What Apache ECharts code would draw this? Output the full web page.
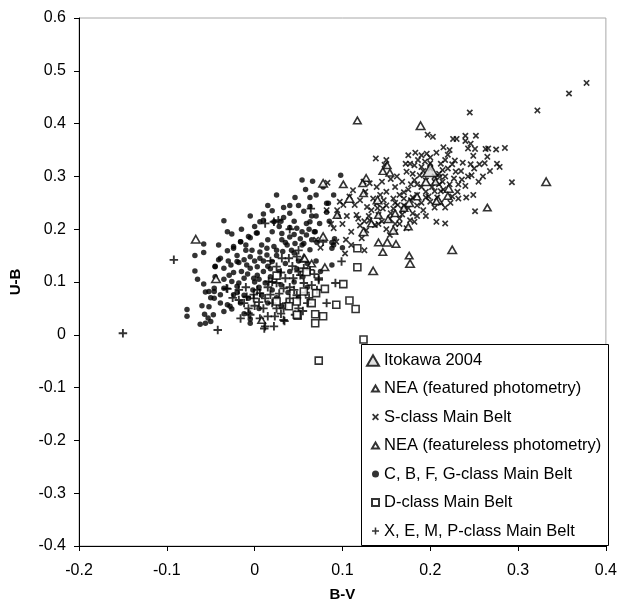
<!DOCTYPE html>
<html>
<head>
<meta charset="utf-8">
<script src="https://cdn.jsdelivr.net/npm/echarts@6/dist/echarts.min.js"></script>
<style>
html,body{margin:0;padding:0;background:#fff;}
#chart{width:620px;height:608px;}
</style>
</head>
<body>
<div id="chart"></div>
<script>
// ---- Data (B-V, U-B) ----
var xTicks = [-0.2, -0.1, 0, 0.1, 0.2, 0.3, 0.4];
var yTicks = [-0.4, -0.3, -0.2, -0.1, 0, 0.1, 0.2, 0.3, 0.4, 0.5, 0.6];
var seriesNames = ["Itokawa 2004", "NEA (featured photometry)", "S-class Main Belt", "NEA (featureless photometry)", "C, B, F, G-class Main Belt", "D-class Main Belt", "X, E, M, P-class Main Belt"];

var itokawa = [[0.200, 0.312]];

var neaFeatured = [[0.117,0.406],[0.146,0.310],[0.154,0.307],[0.151,0.321],[0.101,0.285],[0.127,0.297],[0.123,0.287],[0.124,0.268],[0.265,0.241],[0.176,0.150],[0.146,0.157],[0.141,0.175],[0.161,0.172],[0.133,0.211],[0.175,0.205],[0.094,0.227],[0.207,0.253],[0.220,0.263],[0.206,0.290],[0.080,0.128],[0.057,0.145],[0.141,0.227],[0.152,0.219],[0.008,0.028],[0.065,0.135],[0.170,0.240],[0.185,0.262],[0.160,0.230]];

var neaFeatureless = [[0.189,0.396],[0.078,0.287],[0.108,0.258],[0.332,0.290],[0.225,0.161],[0.177,0.135],[0.135,0.121],[0.151,0.175],[0.124,0.195],[0.158,0.198],[0.209,0.255],[0.221,0.277],[0.078,0.186],[-0.067,0.181],[-0.044,0.106],[0.056,0.145],[0.195,0.290],[0.176,0.250],[0.140,0.255]];

var sClass = [[0.378,0.477],[0.358,0.457],[0.322,0.425],[0.245,0.421],[0.197,0.379],[0.203,0.375],[0.226,0.371],[0.230,0.371],[0.240,0.377],[0.252,0.377],[0.240,0.367],[0.246,0.362],[0.243,0.353],[0.251,0.352],[0.263,0.352],[0.266,0.353],[0.275,0.351],[0.285,0.354],[0.249,0.339],[0.265,0.337],[0.276,0.324],[0.279,0.318],[0.293,0.289],[0.256,0.323],[0.246,0.323],[0.237,0.326],[0.247,0.302],[0.236,0.294],[0.229,0.309],[0.225,0.323],[0.220,0.341],[0.217,0.331],[0.212,0.324],[0.214,0.312],[0.211,0.299],[0.214,0.290],[0.205,0.290],[0.196,0.343],[0.194,0.328],[0.186,0.331],[0.182,0.321],[0.177,0.324],[0.172,0.324],[0.175,0.340],[0.150,0.331],[0.138,0.334],[0.148,0.322],[0.173,0.309],[0.182,0.293],[0.188,0.302],[0.195,0.292],[0.190,0.280],[0.195,0.271],[0.205,0.272],[0.212,0.272],[0.231,0.271],[0.241,0.260],[0.249,0.265],[0.251,0.234],[0.217,0.241],[0.207,0.214],[0.217,0.211],[0.205,0.241],[0.200,0.252],[0.192,0.236],[0.180,0.230],[0.177,0.217],[0.182,0.214],[0.173,0.202],[0.165,0.220],[0.169,0.236],[0.163,0.246],[0.158,0.258],[0.170,0.258],[0.150,0.271],[0.143,0.265],[0.135,0.258],[0.139,0.249],[0.133,0.236],[0.141,0.227],[0.131,0.217],[0.137,0.208],[0.127,0.198],[0.154,0.189],[0.160,0.195],[0.154,0.220],[0.158,0.239],[0.146,0.239],[0.141,0.210],[0.122,0.183],[0.118,0.220],[0.116,0.227],[0.114,0.246],[0.112,0.274],[0.126,0.271],[0.097,0.252],[0.101,0.246],[0.094,0.236],[0.090,0.202],[0.087,0.210],[0.093,0.176],[0.103,0.154],[0.082,0.236],[0.083,0.288],[0.139,0.280],[0.124,0.290],[0.131,0.287],[0.160,0.280],[0.165,0.265],[0.175,0.275],[0.178,0.255],[0.185,0.265],[0.190,0.250],[0.198,0.262],[0.202,0.280],[0.208,0.260],[0.215,0.275],[0.222,0.285],[0.225,0.262],[0.232,0.285],[0.210,0.305],[0.200,0.315],[0.190,0.318],[0.180,0.305],[0.168,0.290],[0.162,0.300],[0.155,0.295],[0.145,0.290],[0.185,0.245],[0.175,0.240],[0.195,0.225],[0.168,0.228],[0.128,0.242],[0.120,0.255],[0.108,0.262],[0.105,0.225],[0.100,0.210],[0.120,0.207],[0.160,0.210],[0.147,0.255],[0.217,0.300],[0.227,0.296],[0.200,0.336],[0.207,0.345],[0.192,0.310],[0.260,0.300],[0.268,0.310],[0.240,0.282],[0.255,0.290],[0.223,0.250],[0.212,0.250],[0.232,0.258],[0.150,0.200],[0.110,0.195],[0.104,0.180],[0.110,0.170],[0.070,0.180],[0.075,0.165],[0.125,0.160],[0.185,0.285],[0.178,0.285],[0.170,0.270],[0.205,0.300],[0.220,0.315],[0.228,0.330],[0.200,0.325],[0.190,0.340],[0.183,0.345],[0.215,0.355],[0.222,0.350],[0.170,0.245],[0.160,0.250],[0.150,0.245],[0.140,0.240],[0.130,0.225],[0.125,0.215],[0.145,0.215],[0.155,0.230],[0.165,0.210],[0.185,0.225],[0.180,0.260],[0.195,0.260],[0.210,0.285],[0.235,0.310],[0.243,0.300],[0.250,0.315],[0.262,0.325]];

var cbfgClass = [[0.054,0.293],[0.066,0.291],[0.046,0.260],[0.063,0.260],[0.063,0.243],[0.033,0.241],[0.056,0.234],[0.010,0.229],[0.010,0.217],[-0.035,0.216],[-0.031,0.195],[-0.026,0.191],[0.006,0.214],[0.022,0.214],[0.033,0.222],[-0.058,0.172],[-0.068,0.150],[-0.068,0.121],[-0.041,0.170],[-0.041,0.142],[-0.031,0.159],[-0.024,0.164],[-0.016,0.176],[-0.007,0.186],[0.003,0.193],[-0.045,0.129],[-0.058,0.096],[-0.052,0.082],[-0.046,0.088],[-0.029,0.113],[-0.024,0.118],[-0.018,0.137],[-0.009,0.132],[-0.020,0.092],[-0.039,0.076],[-0.077,0.048],[-0.077,0.035],[-0.060,0.055],[-0.057,0.039],[-0.062,0.020],[-0.056,0.022],[-0.050,0.025],[-0.052,0.053],[-0.047,0.038],[-0.046,0.069],[-0.039,0.060],[-0.031,0.057],[-0.026,0.049],[-0.024,0.076],[-0.005,0.022],[-0.016,0.060],[-0.007,0.069],[-0.005,0.184],[0.002,0.193],[-0.016,0.176],[-0.024,0.167],[-0.058,0.156],[-0.039,0.145],[-0.045,0.130],[-0.035,0.126],[-0.027,0.132],[-0.020,0.139],[-0.012,0.142],[-0.005,0.148],[0.006,0.157],[0.014,0.164],[0.022,0.167],[0.031,0.180],[0.031,0.192],[0.037,0.170],[0.046,0.173],[0.056,0.173],[0.063,0.161],[0.071,0.175],[0.054,0.195],[0.069,0.195],[0.074,0.211],[0.059,0.211],[0.048,0.202],[0.040,0.203],[0.082,0.249],[0.082,0.232],[-0.005,0.126],[0.003,0.129],[0.003,0.113],[-0.001,0.107],[0.010,0.120],[0.006,0.145],[0.020,0.139],[0.014,0.151],[0.025,0.150],[-0.012,0.107],[-0.018,0.098],[-0.026,0.101],[-0.035,0.088],[-0.046,0.082],[-0.056,0.081],[-0.050,0.070],[-0.028,0.054],[-0.035,0.044],[-0.053,0.032],[-0.005,0.030],[-0.012,0.040],[0.098,0.302],[0.084,0.249],[0.063,0.214],[0.068,0.195],[0.059,0.189],[0.065,0.180],[0.054,0.170],[0.088,0.164],[0.088,0.175],[0.091,0.182],[0.100,0.165],[0.088,0.132],[0.090,0.170],[0.015,0.180],[0.020,0.195],[0.028,0.205],[0.040,0.185],[0.045,0.155],[0.050,0.140],[0.035,0.135],[0.028,0.120],[0.018,0.110],[0.012,0.098],[0.005,0.090],[-0.002,0.085],[0.020,0.085],[0.030,0.095],[0.040,0.120],[0.048,0.125],[0.055,0.110],[0.060,0.135],[0.070,0.140],[0.075,0.120],[0.045,0.100],[0.038,0.080],[0.025,0.070],[0.015,0.060],[0.005,0.050],[0.030,0.055],[0.050,0.070],[0.060,0.090],[0.042,0.160],[0.032,0.158],[0.018,0.125],[0.008,0.170],[-0.010,0.160],[-0.015,0.120],[-0.020,0.080],[-0.012,0.075],[0.000,0.100],[0.008,0.075],[0.065,0.225],[0.045,0.215],[0.050,0.245],[0.040,0.230],[0.020,0.235],[0.000,0.205],[0.010,0.140],[0.015,0.130],[0.025,0.160],[0.035,0.175],[0.045,0.190],[0.052,0.182],[0.030,0.215],[0.040,0.245],[0.062,0.200],[0.070,0.225],[-0.010,0.170],[-0.003,0.160],[0.000,0.140],[-0.008,0.115],[0.005,0.105],[-0.030,0.140],[-0.035,0.105],[-0.045,0.110],[-0.020,0.150],[-0.065,0.105],[-0.015,0.200],[-0.005,0.225],[0.015,0.245],[0.025,0.265],[0.070,0.265],[0.058,0.275],[0.078,0.280],[0.090,0.265],[0.095,0.225],[0.085,0.215]];

var dClass = [[0.117,0.164],[0.117,0.128],[0.101,0.096],[0.080,0.087],[0.108,0.065],[0.059,0.119],[0.070,0.079],[0.056,0.082],[0.115,0.049],[0.093,0.057],[0.078,0.035],[0.069,0.022],[0.069,0.039],[0.065,0.060],[0.049,0.036],[0.025,0.063],[0.073,-0.049],[0.124,-0.009],[0.025,0.112],[0.048,0.063],[0.039,0.054],[0.048,0.038]];

var xempClass = [[-0.150,0.003],[-0.092,0.142],[-0.042,0.009],[-0.032,0.088],[-0.018,0.085],[-0.016,0.031],[-0.018,0.066],[-0.007,0.050],[-0.009,0.072],[-0.001,0.069],[0.006,0.079],[0.012,0.069],[0.018,0.076],[0.010,0.050],[0.012,0.016],[0.022,0.016],[0.023,0.035],[0.033,0.028],[0.033,0.050],[0.025,0.050],[0.046,0.038],[0.050,0.050],[0.040,0.069],[0.033,0.088],[0.025,0.098],[0.035,0.107],[0.044,0.107],[0.052,0.113],[0.056,0.098],[0.073,0.104],[0.065,0.094],[0.082,0.060],[0.025,0.129],[0.031,0.145],[0.039,0.145],[0.048,0.148],[0.022,0.214],[0.027,0.217],[0.012,0.211],[0.064,0.239],[0.078,0.176],[0.016,0.101],[0.003,0.085],[-0.012,0.060],[-0.005,0.038],[0.006,0.031],[0.063,0.123],[0.073,0.107],[0.099,0.139],[0.056,0.126],[0.071,0.085],[-0.031,0.087],[0.011,0.012],[0.034,0.026],[-0.007,0.041],[-0.001,0.076],[0.015,0.090],[0.028,0.078],[0.040,0.090],[0.048,0.075],[0.058,0.080],[0.030,0.118],[0.018,0.140],[0.043,0.130],[0.020,0.060],[0.036,0.060],[-0.025,0.070],[0.005,0.062],[0.060,0.060],[0.050,0.160],[0.040,0.200],[0.092,0.098],[0.020,0.100],[0.045,0.085],[0.055,0.045],[0.062,0.070],[0.030,0.040],[0.015,0.035],[0.000,0.055],[-0.010,0.090],[0.068,0.115],[0.050,0.120]];

// ---- Chart ----
var FONT = "'Liberation Sans', Arial, sans-serif";
var PLUS = 'path://M3.9,0H6.1V3.9H10V6.1H6.1V10H3.9V6.1H0V3.9H3.9Z';
var CROSS = 'path://M0,1.8L1.8,0L5,3.2L8.2,0L10,1.8L6.8,5L10,8.2L8.2,10L5,6.8L1.8,10L0,8.2L3.2,5Z';
var TRI = 'path://M5,0L10,8.66L0,8.66Z';

var chart = echarts.init(document.getElementById('chart'), null, {renderer: 'canvas'});
var hollow = {color: '#fff', borderColor: '#000', borderWidth: 1.6};
var legendText = {fontFamily: FONT, fontSize: 16.5, color: '#000', lineHeight: 16};

chart.setOption({
  animation: false,
  backgroundColor: '#fff',
  textStyle: {fontFamily: FONT, color: '#000'},
  grid: {left: 78, right: 13, top: 18, bottom: 62, show: true, borderColor: '#a8a8a8', borderWidth: 1, backgroundColor: 'transparent'},
  graphic: [{
    type: 'rect', left: 361, top: 344, z: 10, silent: true,
    shape: {width: 247, height: 201},
    style: {fill: '#fff', stroke: '#000', lineWidth: 1}
  }],
  xAxis: {
    type: 'value', min: xTicks[0], max: xTicks[xTicks.length - 1], interval: 0.1,
    name: 'B-V', nameLocation: 'middle', nameGap: 41,
    nameTextStyle: {fontFamily: FONT, fontWeight: 'bold', fontSize: 15, color: '#000'},
    axisLine: {show: true, onZero: false, lineStyle: {color: '#000', width: 1}},
    axisTick: {show: true, inside: false, length: 5, lineStyle: {color: '#000'}},
    axisLabel: {fontFamily: FONT, fontSize: 16, color: '#000', margin: 17,
      formatter: function (v) { return String(Math.round(v * 10) / 10); }},
    splitLine: {show: false}
  },
  yAxis: {
    type: 'value', min: yTicks[0], max: yTicks[yTicks.length - 1], interval: 0.1,
    name: 'U-B', nameLocation: 'middle', nameGap: 56, nameRotate: 90,
    nameTextStyle: {fontFamily: FONT, fontWeight: 'bold', fontSize: 15, color: '#000'},
    axisLine: {show: true, onZero: false, lineStyle: {color: '#000', width: 1}},
    axisTick: {show: true, inside: false, length: 5, lineStyle: {color: '#000'}},
    axisLabel: {fontFamily: FONT, fontSize: 16, color: '#000', margin: 13,
      formatter: function (v) { return String(Math.round(v * 10) / 10); }},
    splitLine: {show: false}
  },
  legend: [{
    orient: 'vertical', left: 366, top: 352, padding: 0, z: 12,
    itemWidth: 12, itemHeight: 11, itemGap: 0,
    textStyle: legendText,
    data: [seriesNames[0]]
  }, {
    orient: 'vertical', left: 371, top: 380, padding: 0, z: 12,
    itemWidth: 7, itemHeight: 7, itemGap: 11.5,
    textStyle: legendText,
    data: seriesNames.slice(1)
  }],
  series: [
    {name: seriesNames[4], type: 'scatter', data: cbfgClass, symbol: 'circle', symbolSize: 5.5, z: 2,
      itemStyle: {color: '#000'}},
    {name: seriesNames[2], type: 'scatter', data: sClass, symbol: CROSS, symbolSize: 6.5, z: 3,
      itemStyle: {color: '#000'}},
    {name: seriesNames[6], type: 'scatter', data: xempClass, symbol: PLUS, symbolSize: 8.5, z: 4,
      itemStyle: {color: '#000'}},
    {name: seriesNames[5], type: 'scatter', data: dClass, symbol: 'rect', symbolSize: 7, z: 5,
      itemStyle: hollow},
    {name: seriesNames[3], type: 'scatter', data: neaFeatureless, symbol: TRI, symbolSize: [8.5, 7.4], z: 6,
      itemStyle: hollow},
    {name: seriesNames[1], type: 'scatter', data: neaFeatured, symbol: TRI, symbolSize: [7.5, 6.5], z: 7,
      itemStyle: hollow},
    {name: seriesNames[0], type: 'scatter', data: itokawa, symbol: TRI, symbolSize: [15, 13], z: 8,
      itemStyle: {color: '#d8d8d8', borderColor: '#000', borderWidth: 1.5}}
  ]
});
</script>
</body>
</html>
